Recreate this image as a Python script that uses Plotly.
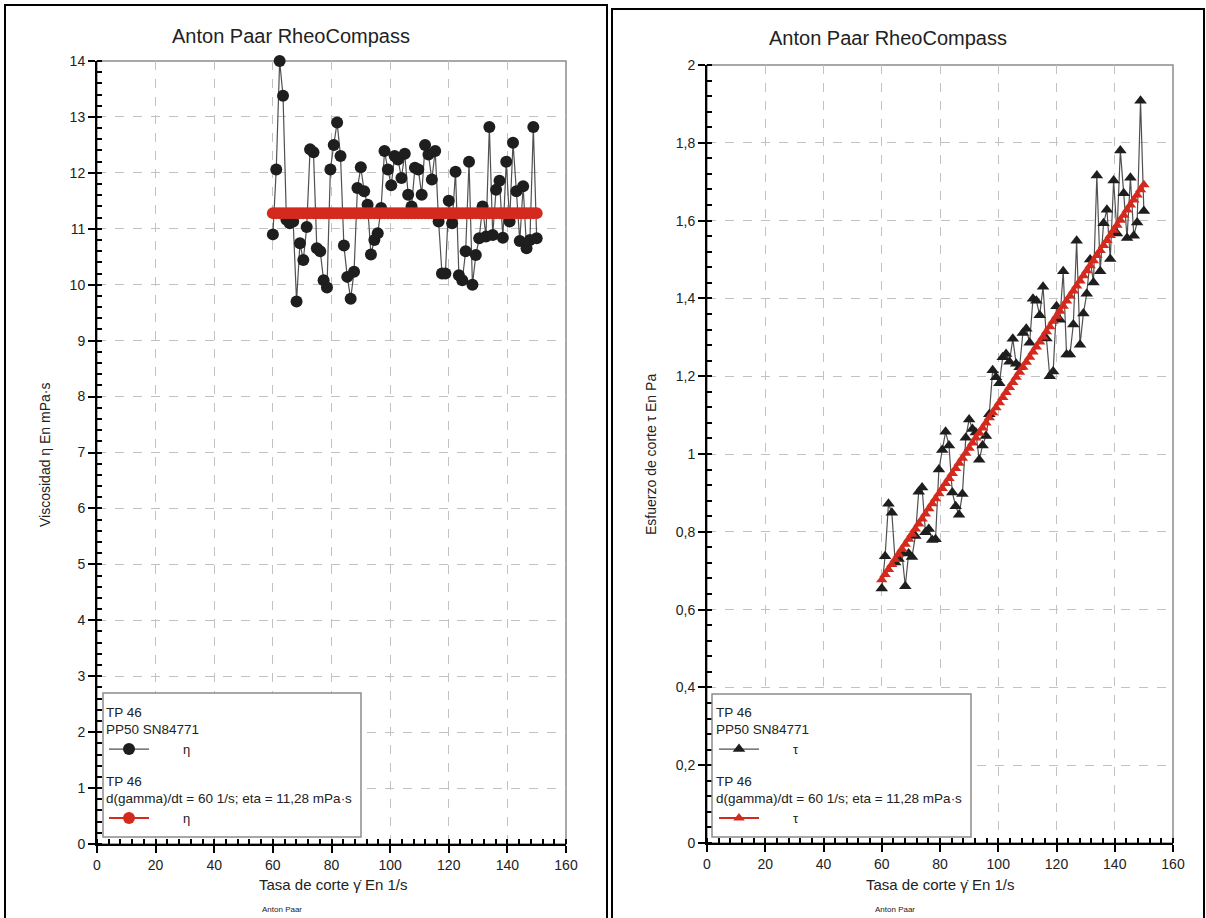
import plotly.graph_objects as go

# ---------------- data ----------------
shear_rate = [60.00, 61.15, 62.31, 63.46, 64.62, 65.77, 66.92, 68.08, 69.23, 70.38,
              71.54, 72.69, 73.85, 75.00, 76.15, 77.31, 78.46, 79.62, 80.77, 81.92,
              83.08, 84.23, 85.38, 86.54, 87.69, 88.85, 90.00, 91.15, 92.31, 93.46,
              94.62, 95.77, 96.92, 98.08, 99.23, 100.38, 101.54, 102.69, 103.85, 105.00,
              106.15, 107.31, 108.46, 109.62, 110.77, 111.92, 113.08, 114.23, 115.38, 116.54,
              117.69, 118.85, 120.00, 121.15, 122.31, 123.46, 124.62, 125.77, 126.92, 128.08,
              129.23, 130.38, 131.54, 132.69, 133.85, 135.00, 136.15, 137.31, 138.46, 139.62,
              140.77, 141.92, 143.08, 144.23, 145.38, 146.54, 147.69, 148.85, 150.00]

eta_mpas = [10.90, 12.06, 14.00, 13.38, 11.16, 11.10, 11.13, 9.70, 10.74, 10.44,
            11.03, 12.42, 12.37, 10.65, 10.60, 10.08, 9.95, 12.06, 12.50, 12.90,
            12.30, 10.70, 10.14, 9.75, 10.23, 11.73, 12.10, 11.67, 11.43, 10.54,
            10.80, 10.92, 11.37, 12.39, 12.06, 11.78, 12.30, 12.24, 11.91, 12.34,
            11.61, 11.40, 12.09, 12.06, 11.61, 12.50, 12.33, 11.88, 12.39, 11.13,
            10.20, 10.20, 11.50, 11.10, 12.02, 10.17, 10.08, 10.60, 12.20, 10.00,
            10.53, 10.83, 11.40, 10.86, 12.82, 10.89, 11.70, 11.86, 10.84, 12.20,
            11.13, 12.54, 11.67, 10.78, 11.76, 10.65, 10.80, 12.82, 10.83]

eta_fit = [11.28] * len(shear_rate)

tau_pa = [0.654, 0.737, 0.872, 0.849, 0.721, 0.730, 0.745, 0.660, 0.744, 0.735,
          0.789, 0.903, 0.914, 0.799, 0.807, 0.779, 0.781, 0.960, 1.010, 1.057,
          1.022, 0.901, 0.866, 0.844, 0.897, 1.042, 1.089, 1.064, 1.055, 0.985,
          1.022, 1.046, 1.102, 1.215, 1.197, 1.182, 1.249, 1.257, 1.237, 1.296,
          1.232, 1.223, 1.311, 1.322, 1.286, 1.399, 1.394, 1.357, 1.430, 1.297,
          1.200, 1.212, 1.380, 1.345, 1.470, 1.256, 1.256, 1.333, 1.548, 1.281,
          1.361, 1.412, 1.500, 1.441, 1.716, 1.470, 1.593, 1.628, 1.501, 1.703,
          1.567, 1.780, 1.670, 1.555, 1.710, 1.561, 1.595, 1.908, 1.625]

tau_fit = [0.677, 0.690, 0.703, 0.716, 0.729, 0.742, 0.755, 0.768, 0.781, 0.794,
           0.807, 0.820, 0.833, 0.846, 0.859, 0.872, 0.885, 0.898, 0.911, 0.924,
           0.937, 0.950, 0.963, 0.976, 0.989, 1.002, 1.015, 1.028, 1.041, 1.054,
           1.067, 1.080, 1.093, 1.106, 1.119, 1.132, 1.145, 1.158, 1.171, 1.184,
           1.197, 1.210, 1.223, 1.236, 1.249, 1.262, 1.275, 1.288, 1.301, 1.314,
           1.327, 1.341, 1.354, 1.367, 1.380, 1.393, 1.406, 1.419, 1.432, 1.445,
           1.458, 1.471, 1.484, 1.497, 1.510, 1.523, 1.536, 1.549, 1.562, 1.575,
           1.588, 1.601, 1.614, 1.627, 1.640, 1.653, 1.666, 1.679, 1.692]

title_text = "Anton Paar RheoCompass"
x_title = "Tasa de corte γ̇ En 1/s"
y_title_left = "Viscosidad η En mPa·s"
y_title_right = "Esfuerzo de corte τ En Pa"
legend_head_1 = "TP 46<br>PP50 SN84771"
legend_head_2 = "TP 46<br>d(gamma)/dt = 60 1/s; eta = 11,28 mPa·s"
name_eta = "η"
name_tau = "τ"
footer = "Anton Paar"

# ---------------- layout helpers ----------------
W, H = 1206, 918
FONT = "Liberation Sans, Arial, sans-serif"
BLACK = "#1e1e1e"
LINE_GREY = "#505050"
RED = "#d42a1e"
TXT = "#222"
PAD = "\u00a0" * 8


def px(x):
    return x / W


def py(y):
    return 1 - y / H


fig = go.Figure()

# left panel
fig.add_trace(go.Scatter(
    x=shear_rate, y=eta_mpas, mode="lines+markers", name=PAD + name_eta,
    line=dict(color=LINE_GREY, width=1.2),
    marker=dict(symbol="circle", size=12, color=BLACK),
    cliponaxis=False, xaxis="x", yaxis="y", legend="legend"))
fig.add_trace(go.Scatter(
    x=shear_rate, y=eta_fit, mode="lines+markers", name=PAD + name_eta,
    line=dict(color=RED, width=2),
    marker=dict(symbol="circle", size=12, color=RED),
    cliponaxis=False, xaxis="x", yaxis="y", legend="legend2"))

# right panel
fig.add_trace(go.Scatter(
    x=shear_rate, y=tau_pa, mode="lines+markers", name=PAD + name_tau,
    line=dict(color=LINE_GREY, width=1.2),
    marker=dict(symbol="triangle-up", size=11, color=BLACK),
    cliponaxis=False, xaxis="x2", yaxis="y2", legend="legend3"))
fig.add_trace(go.Scatter(
    x=shear_rate, y=tau_fit, mode="lines+markers", name=PAD + name_tau,
    line=dict(color=RED, width=2),
    marker=dict(symbol="triangle-up", size=10, color=RED),
    cliponaxis=False, xaxis="x2", yaxis="y2", legend="legend4"))

axis_common = dict(
    showgrid=True, gridcolor="#c2c2c2", griddash="dash", gridwidth=1,
    zeroline=False, showline=True, linecolor="black", linewidth=2,
    ticks="outside", ticklen=7, tickwidth=1.5, tickcolor="black",
    tickfont=dict(family=FONT, size=14, color=TXT),
)

fig.update_layout(
    width=W, height=H, autosize=False,
    margin=dict(l=0, r=0, t=0, b=0),
    paper_bgcolor="white", plot_bgcolor="white",
    template="none",
    separators=",.",
    font=dict(family=FONT, color=TXT),
    xaxis=dict(domain=[px(97), px(566)], range=[0, 160], dtick=20, tick0=0,
               anchor="y",
               minor=dict(ticks="inside", ticklen=5, dtick=4, tickcolor="black", showgrid=False),
               **axis_common),
    yaxis=dict(domain=[py(844), py(61)], range=[0, 14], dtick=1, tick0=0,
               anchor="x",
               minor=dict(ticks="inside", ticklen=5, dtick=0.2, tickcolor="black", showgrid=False),
               **axis_common),
    xaxis2=dict(domain=[px(707), px(1173)], range=[0, 160], dtick=20, tick0=0,
                anchor="y2",
                minor=dict(ticks="inside", ticklen=5, dtick=4, tickcolor="black", showgrid=False),
                **axis_common),
    yaxis2=dict(domain=[py(843), py(65)], range=[0, 2], dtick=0.2, tick0=0,
                anchor="x2",
                minor=dict(ticks="inside", ticklen=5, dtick=0.04, tickcolor="black", showgrid=False),
                **axis_common),
    showlegend=True,
)

legend_common = dict(
    bgcolor="rgba(0,0,0,0)", borderwidth=0, xanchor="left", yanchor="top",
    itemwidth=40, itemsizing="trace", tracegroupgap=0,
    font=dict(family=FONT, size=13, color=TXT),
)
head_font = dict(family=FONT, size=13.5, color=TXT)
fig.update_layout(
    legend=dict(x=px(104), y=py(699), title=dict(text=legend_head_1, side="top", font=head_font),
                **legend_common),
    legend2=dict(x=px(104), y=py(768), title=dict(text=legend_head_2, side="top", font=head_font),
                 **legend_common),
    legend3=dict(x=px(714), y=py(699), title=dict(text=legend_head_1, side="top", font=head_font),
                 **legend_common),
    legend4=dict(x=px(714), y=py(768), title=dict(text=legend_head_2, side="top", font=head_font),
                 **legend_common),
)

shapes = []
# panel borders
shapes.append(dict(type="rect", xref="paper", yref="paper", x0=px(5), x1=px(607),
                   y0=-0.02, y1=py(5), line=dict(color="black", width=2), layer="below"))
shapes.append(dict(type="rect", xref="paper", yref="paper", x0=px(612), x1=px(1204),
                   y0=-0.02, y1=py(9), line=dict(color="black", width=2), layer="below"))
# plot frames (top/right)
for xr, yr in (("x", "y"), ("x2", "y2")):
    shapes.append(dict(type="rect", xref=f"{xr} domain", yref=f"{yr} domain",
                       x0=0, x1=1, y0=0, y1=1, line=dict(color="#8c8c8c", width=1.5),
                       layer="below"))
# legend boxes
shapes.append(dict(type="rect", xref="paper", yref="paper", x0=px(103), x1=px(361),
                   y0=py(837), y1=py(693), fillcolor="white",
                   line=dict(color="#8c8c8c", width=1.5), layer="above"))
shapes.append(dict(type="rect", xref="paper", yref="paper", x0=px(712), x1=px(971),
                   y0=py(837), y1=py(694), fillcolor="white",
                   line=dict(color="#8c8c8c", width=1.5), layer="above"))
fig.update_layout(shapes=shapes)


def label(text, x, y, size, angle=0):
    return dict(text=text, x=px(x), y=py(y), xref="paper", yref="paper",
                xanchor="center", yanchor="middle", textangle=angle,
                showarrow=False, font=dict(family=FONT, size=size, color=TXT))


ann = [
    label(title_text, 291, 36, 20),
    label(title_text, 888, 38, 20),
    label(x_title, 333, 884, 15),
    label(x_title, 940, 884, 15),
    label(y_title_left, 45, 455, 14, -90),
    label(y_title_right, 651, 455, 14, -90),
    label(footer, 282, 909, 8),
    label(footer, 895, 909, 8),
]
fig.update_layout(annotations=ann)

fig.write_html("out.html", config={"displayModeBar": False},
               post_script="document.body.style.margin='0px';")
